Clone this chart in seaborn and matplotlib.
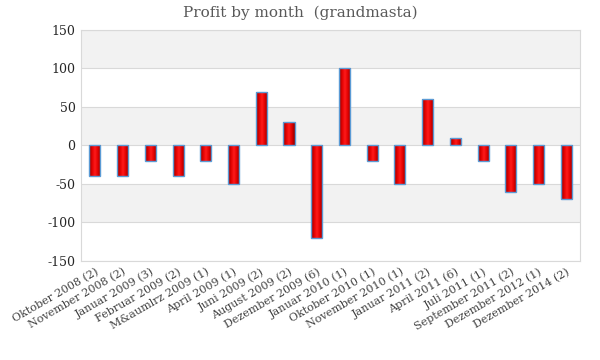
import matplotlib
matplotlib.use("Agg")
import matplotlib.pyplot as plt
import seaborn as sns
import pandas as pd
import numpy as np
from matplotlib.colors import LinearSegmentedColormap

months = ["Oktober 2008 (2)", "November 2008 (2)", "Januar 2009 (3)", "Februar 2009 (2)",
          "M&aumlrz 2009 (1)", "April 2009 (1)", "Juni 2009 (2)", "August 2009 (2)",
          "Dezember 2009 (6)", "Januar 2010 (1)", "Oktober 2010 (1)", "November 2010 (1)",
          "Januar 2011 (2)", "April 2011 (6)", "Juli 2011 (1)", "September 2011 (2)",
          "Dezember 2012 (1)", "Dezember 2014 (2)"]
profit = [-40, -40, -20, -40, -20, -50, 70, 30, -120, 100, -20, -50, 60, 10, -20, -60, -50, -70]
yticks = [-150, -100, -50, 0, 50, 100, 150]

sns.set_theme(style="white")
plt.rcParams['font.family'] = ['DejaVu Serif', 'DejaVu Sans']
plt.rcParams['axes.unicode_minus'] = False

df = pd.DataFrame({"month": months, "profit": profit})

fig = plt.figure(figsize=(6, 3.6), dpi=100)
ax = fig.add_axes([0.135, 0.275, 0.832, 0.642])

for lo, hi in [(100, 150), (0, 50), (-100, -50)]:
    ax.axhspan(lo, hi, color="#f2f2f2", zorder=0, lw=0)
for y in yticks:
    ax.axhline(y, color="#d9d9d9", lw=0.8, zorder=0.5)

sns.barplot(data=df, x="month", y="profit", color="#d00000", width=0.4,
            edgecolor="#5b9bd5", linewidth=1.0, saturation=1, ax=ax, zorder=2)

ax.set_ylim(-150, 150)
ax.set_xlim(-0.5, len(months) - 0.5)

# horizontal red gradient inside bars
cmap = LinearSegmentedColormap.from_list("rg", ["#8a0000", "#e00000", "#ff1a1a", "#e00000", "#8a0000"])
grad = np.linspace(0, 1, 64).reshape(1, -1)
for p in ax.containers[0]:
    x0, y0 = p.get_x(), p.get_y()
    w, h = p.get_width(), p.get_height()
    im = ax.imshow(grad, cmap=cmap, aspect="auto", zorder=2.1,
                   extent=[x0, x0 + w, min(y0, y0 + h), max(y0, y0 + h)])
    im.set_clip_path(p)
    p.set_facecolor("none")
    p.set_zorder(2.2)

ax.set_ylim(-150, 150)
ax.set_xlim(-0.5, len(months) - 0.5)
ax.set_yticks(yticks)
ax.set_xlabel("")
ax.set_ylabel("")
ax.set_xticks(range(len(months)))
ax.set_xticklabels(months, rotation=30, ha="right", rotation_mode="anchor",
                   fontsize=8, color="#404040")
for lab in ax.get_yticklabels():
    lab.set_fontsize(9)
    lab.set_color("#262626")
ax.tick_params(axis="both", length=0, pad=4)
for s in ax.spines.values():
    s.set_color("#d9d9d9")
    s.set_linewidth(0.8)

fig.text(0.5, 0.965, "Profit by month  (grandmasta)", ha="center", va="center",
         fontsize=11, color="#595959")

fig.savefig("out.png", dpi=100)
